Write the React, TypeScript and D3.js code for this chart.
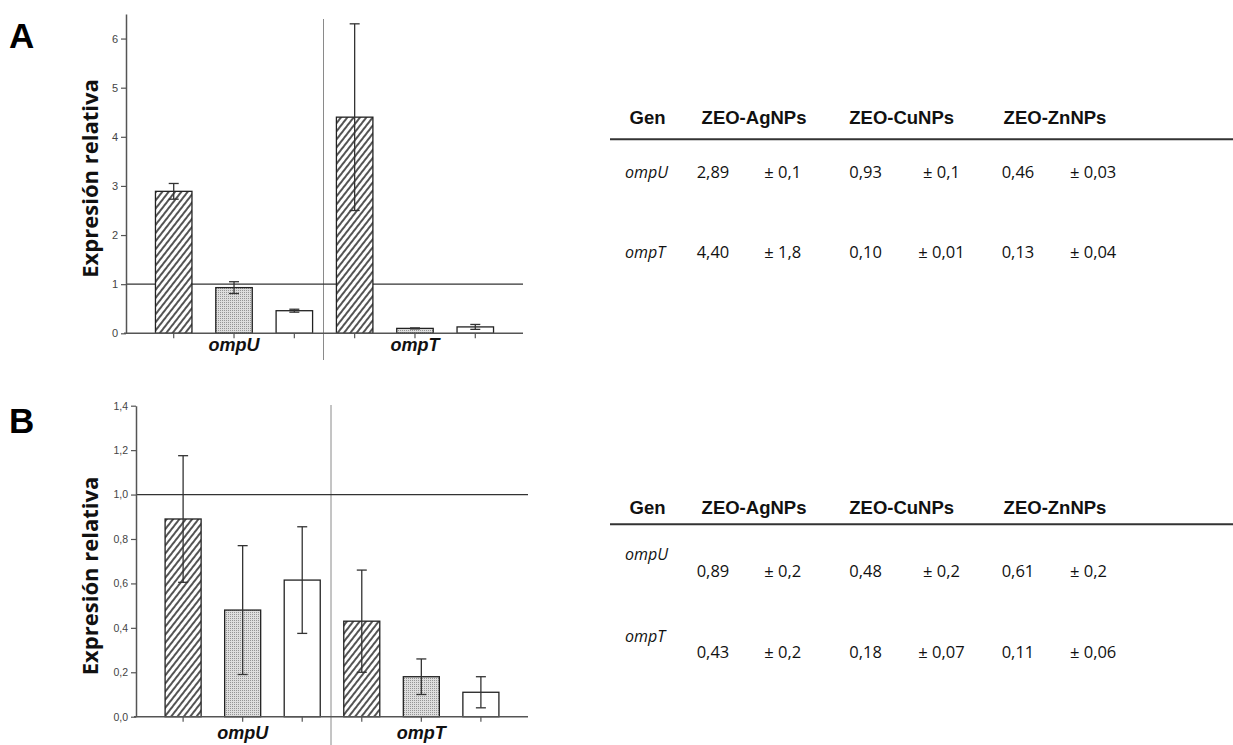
// Relative expression bar charts (panels A and B) with summary tables
import React, { useRef, useEffect } from 'react';
import * as d3 from 'd3';

const GENES = ['ompU', 'ompT'];
const TREATMENTS = ['ZEO-AgNPs', 'ZEO-CuNPs', 'ZEO-ZnNPs'];

// Panel A values (bar height and drawn error half-width)
const A_OMPU_MEAN = [2.89, 0.93, 0.46];
const A_OMPT_MEAN = [4.4, 0.1, 0.13];
const A_OMPU_ERR = [0.16, 0.12, 0.03];
const A_OMPT_ERR = [1.9, 0.01, 0.05];
const A_TICKS = [0, 1, 2, 3, 4, 5, 6];

// Panel B values
const B_OMPU_MEAN = [0.89, 0.48, 0.615];
const B_OMPT_MEAN = [0.43, 0.18, 0.11];
const B_OMPU_ERR = [0.285, 0.29, 0.24];
const B_OMPT_ERR = [0.23, 0.08, 0.07];
const B_TICKS = [0, 0.2, 0.4, 0.6, 0.8, 1.0, 1.2, 1.4];

// Table texts
const TABLE_HEAD = ['Gen', ...TREATMENTS];
const A_ROW_OMPU = ['2,89', '± 0,1', '0,93', '± 0,1', '0,46', '± 0,03'];
const A_ROW_OMPT = ['4,40', '± 1,8', '0,10', '± 0,01', '0,13', '± 0,04'];
const B_ROW_OMPU = ['0,89', '± 0,2', '0,48', '± 0,2', '0,61', '± 0,2'];
const B_ROW_OMPT = ['0,43', '± 0,2', '0,18', '± 0,07', '0,11', '± 0,06'];

const FILLS = ['url(#hatch)', 'url(#stipple)', '#ffffff'];
const commaFmt = (d: number) => d3.format('.1f')(d).replace('.', ',');

function drawPanel(svg: any, p: any) {
  const g = svg.append('g');

  const x0 = d3.scaleBand().domain(GENES).range([p.x1, p.x2]).paddingOuter(0.097).paddingInner(0);
  const xs = d3.scaleBand().domain(TREATMENTS).range([0, x0.bandwidth()])
    .paddingInner(0.395).paddingOuter(0.1975);
  const y = d3.scaleLinear().domain([0, p.yMax]).range([p.yBottom, p.yTop]);

  const data = GENES.flatMap((gene, gi) => TREATMENTS.map((t, ti) => ({
    gene, t, ti, value: p.means[gi][ti], err: p.errs[gi][ti],
  })));
  const cx = (d: any) => (x0(d.gene) as number) + (xs(d.t) as number) + xs.bandwidth() / 2;

  // divider between genes
  const divX = (x0('ompT') as number) - 1;
  g.append('line')
    .attr('x1', divX).attr('x2', divX)
    .attr('y1', p.divTop).attr('y2', p.divBottom)
    .attr('stroke', '#8a8a8a').attr('stroke-width', 1);

  // reference line at 1
  g.append('line')
    .attr('x1', p.x1).attr('x2', p.x2)
    .attr('y1', y(1)).attr('y2', y(1))
    .attr('stroke', '#333').attr('stroke-width', 1.3);

  // bars
  g.selectAll('.bar')
    .data(data)
    .join('rect')
    .attr('x', (d: any) => cx(d) - xs.bandwidth() / 2)
    .attr('width', xs.bandwidth())
    .attr('y', (d: any) => y(d.value))
    .attr('height', (d: any) => p.yBottom - y(d.value))
    .attr('fill', (d: any) => FILLS[d.ti])
    .attr('stroke', '#222')
    .attr('stroke-width', 1.3);

  // error bars
  const eb = g.selectAll('.err').data(data).join('g').attr('stroke', '#333').attr('stroke-width', 1.3);
  eb.append('line')
    .attr('x1', cx).attr('x2', cx)
    .attr('y1', (d: any) => y(d.value - d.err)).attr('y2', (d: any) => y(d.value + d.err));
  eb.append('line')
    .attr('x1', (d: any) => cx(d) - 5).attr('x2', (d: any) => cx(d) + 5)
    .attr('y1', (d: any) => y(d.value + d.err)).attr('y2', (d: any) => y(d.value + d.err));
  eb.append('line')
    .attr('x1', (d: any) => cx(d) - 5).attr('x2', (d: any) => cx(d) + 5)
    .attr('y1', (d: any) => y(d.value - d.err)).attr('y2', (d: any) => y(d.value - d.err));

  // x axis
  g.append('line')
    .attr('x1', p.x1 - 2).attr('x2', p.x2)
    .attr('y1', p.yBottom).attr('y2', p.yBottom)
    .attr('stroke', '#555').attr('stroke-width', 1.5);
  g.selectAll('.xtick').data(data).join('line')
    .attr('x1', cx).attr('x2', cx)
    .attr('y1', p.yBottom).attr('y2', p.yBottom + 5)
    .attr('stroke', '#555').attr('stroke-width', 1.2);

  // gene labels
  g.selectAll('.gene').data(GENES).join('text')
    .attr('x', (d: string) => (x0(d) as number) + x0.bandwidth() / 2)
    .attr('y', p.geneY)
    .attr('text-anchor', 'middle')
    .style('font-family', 'Arial, "Liberation Sans", sans-serif')
    .style('font-size', '18px')
    .style('font-weight', 'bold')
    .style('font-style', 'italic')
    .attr('fill', '#111')
    .text((d: string) => d);

  // y axis
  const ya = g.append('g')
    .attr('transform', `translate(${p.x1}, 0)`)
    .call(d3.axisLeft(y).tickValues(p.ticks).tickSize(5).tickSizeOuter(0).tickPadding(3).tickFormat(p.fmt));
  ya.select('.domain').attr('stroke', '#555').attr('stroke-width', 1.5);
  ya.selectAll('.tick line').attr('stroke', '#555').attr('stroke-width', 1.2);
  ya.selectAll('text')
    .attr('fill', '#444')
    .style('font-family', 'Arial, "Liberation Sans", sans-serif')
    .style('font-size', p.tickFont);

  // y title
  g.append('text')
    .attr('transform', `translate(${p.titleX}, ${p.titleY}) rotate(-90)`)
    .attr('text-anchor', 'middle')
    .style('font-family', '"Open Sans", sans-serif')
    .style('font-size', '22px')
    .style('font-weight', 'bold')
    .attr('fill', '#111')
    .text('Expresión relativa');

  // panel letter
  g.append('text')
    .attr('x', 9).attr('y', p.letterY)
    .style('font-family', 'Arial, "Liberation Sans", sans-serif')
    .style('font-size', '35px')
    .style('font-weight', 'bold')
    .attr('fill', '#000')
    .text(p.letter);
}

function drawTable(svg: any, t: any) {
  const g = svg.append('g');
  const headX = [647.5, 754, 901.7, 1055];
  g.selectAll('.head').data(TABLE_HEAD).join('text')
    .attr('x', (_: any, i: number) => headX[i])
    .attr('y', t.headY)
    .attr('text-anchor', 'middle')
    .style('font-family', 'Arial, "Liberation Sans", sans-serif')
    .style('font-size', '18.5px')
    .style('font-weight', 'bold')
    .attr('fill', '#111')
    .text((d: string) => d);

  g.append('line')
    .attr('x1', 610).attr('x2', 1233)
    .attr('y1', t.ruleY).attr('y2', t.ruleY)
    .attr('stroke', '#333').attr('stroke-width', 2);

  const colX = [696.7, 764.3, 849.3, 941.5, 1001.7, 1070];
  const colAnchor = ['start', 'start', 'start', 'middle', 'start', 'start'];
  const rows = [t.rowU, t.rowT];
  rows.forEach((row: string[], ri: number) => {
    g.append('text')
      .attr('x', 625)
      .attr('y', t.geneY[ri])
      .style('font-family', '"Open Sans", sans-serif')
      .style('font-size', '16px')
      .style('font-style', 'italic')
      .attr('fill', '#111')
      .text(GENES[ri]);
    g.selectAll(`.v${ri}`).data(row).join('text')
      .attr('x', (_: any, i: number) => colX[i])
      .attr('y', t.rowY[ri])
      .attr('text-anchor', (_: any, i: number) => colAnchor[i])
      .style('font-family', '"Open Sans", sans-serif')
      .style('font-size', '16.5px')
      .attr('fill', '#111')
      .text((d: string) => d);
  });
}

export default function App() {
  const svgRef = useRef<SVGSVGElement>(null);

  useEffect(() => {
    if (!svgRef.current) return;
    const svg = d3.select(svgRef.current);
    svg.selectAll('*').remove();

    const defs = svg.append('defs');
    const hatch = defs.append('pattern')
      .attr('id', 'hatch').attr('patternUnits', 'userSpaceOnUse')
      .attr('width', 5).attr('height', 10)
      .attr('patternTransform', 'rotate(38)');
    hatch.append('rect').attr('width', 5).attr('height', 10).attr('fill', '#fff');
    hatch.append('line').attr('x1', 1).attr('x2', 1).attr('y1', 0).attr('y2', 10)
      .attr('stroke', '#1a1a1a').attr('stroke-width', 1.5);

    const stip = defs.append('pattern')
      .attr('id', 'stipple').attr('patternUnits', 'userSpaceOnUse')
      .attr('width', 2).attr('height', 2);
    stip.append('rect').attr('width', 2).attr('height', 2).attr('fill', '#dedede');
    stip.append('rect').attr('width', 1).attr('height', 1).attr('fill', '#959595');

    drawPanel(svg, {
      letter: 'A', letterY: 48,
      means: [A_OMPU_MEAN, A_OMPT_MEAN], errs: [A_OMPU_ERR, A_OMPT_ERR],
      ticks: A_TICKS, fmt: d3.format('d'), tickFont: '11px',
      yMax: 6.5, yBottom: 333.3, yTop: 14,
      x1: 126, x2: 523,
      divTop: 19, divBottom: 360, geneY: 351,
      titleX: 98, titleY: 178.5,
    });
    drawPanel(svg, {
      letter: 'B', letterY: 433,
      means: [B_OMPU_MEAN, B_OMPT_MEAN], errs: [B_OMPU_ERR, B_OMPT_ERR],
      ticks: B_TICKS, fmt: commaFmt, tickFont: '10.5px',
      yMax: 1.4, yBottom: 716.7, yTop: 405.7,
      x1: 136, x2: 528,
      divTop: 405, divBottom: 745, geneY: 739,
      titleX: 98, titleY: 576,
    });

    drawTable(svg, {
      headY: 124, ruleY: 139.3,
      rowU: A_ROW_OMPU, rowT: A_ROW_OMPT,
      geneY: [178, 258], rowY: [178, 258],
    });
    drawTable(svg, {
      headY: 514, ruleY: 524.3,
      rowU: B_ROW_OMPU, rowT: B_ROW_OMPT,
      geneY: [560, 642], rowY: [577, 658],
    });
  }, []);

  return (
    <svg
      ref={svgRef}
      width={1233}
      height={745}
      style={{ position: 'absolute', left: 0, top: 0, background: '#fff' }}
    />
  );
}
